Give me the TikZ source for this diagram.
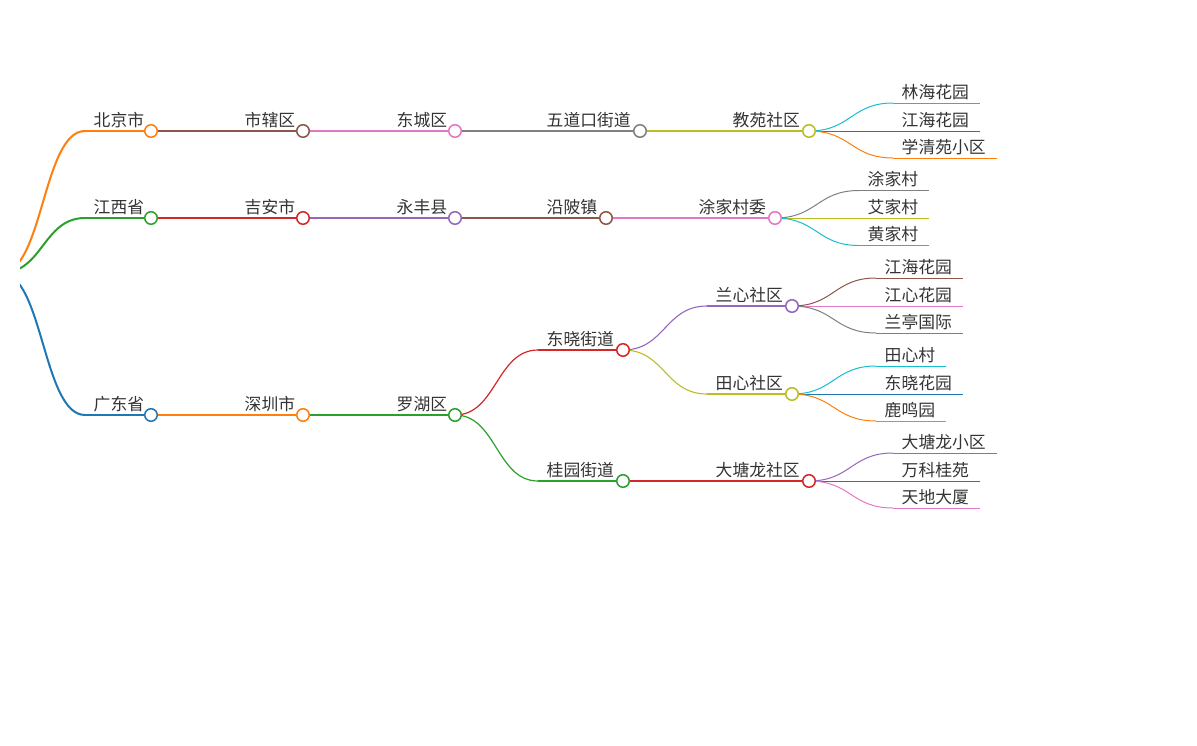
\documentclass[tikz,border=0pt]{standalone}
\usepackage{fontspec}
\newfontfamily\cjk{Noto Sans CJK SC}
\usetikzlibrary{calc}
\definecolor{cblue}{HTML}{1F77B4}
\definecolor{corange}{HTML}{FF7F0E}
\definecolor{cgreen}{HTML}{2CA02C}
\definecolor{cred}{HTML}{D62728}
\definecolor{cpurple}{HTML}{9467BD}
\definecolor{cbrown}{HTML}{8C564B}
\definecolor{cpink}{HTML}{E377C2}
\definecolor{cgray}{HTML}{7F7F7F}
\definecolor{colive}{HTML}{BCBD22}
\definecolor{ccyan}{HTML}{17BECF}
\definecolor{txt}{HTML}{333333}
\pgfdeclarelayer{fg}
\pgfsetlayers{main,fg}
\tikzset{
  lbl/.style={font=\cjk\fontsize{16.8}{18}\selectfont, text=txt, inner sep=0pt, anchor=base west},
  dot/.style={circle, fill=white, line width=1.5pt, minimum size=12.5pt, inner sep=0pt},
  link/.style={to path={let \p1=(\tikztostart), \p2=(\tikztotarget), \n1={(\x1+\x2)/2} in .. controls (\n1,\y1) and (\n1,\y2) .. (\tikztotarget)}},
}
% name, xs, xe, y, colour, width, text
\newcommand\mmnode[7]{%
  \coordinate (#1-s) at (#2,#4);
  \coordinate (#1) at (#3,#4);
  \draw[#5, line width=#6pt] (#1-s) -- (#1);
  \node[lbl] (#1-t) at ($(#1-s)+(8.5,-5)$) {#7};
}
% parent, child, colour, width
\newcommand\mmlink[4]{\draw[link, #3, line width=#4pt] (#1) to (#2-s);}
\newcommand\mmdot[2]{\begin{pgfonlayer}{fg}\node[dot, draw=#2] (#1-c) at (#1) {};\end{pgfonlayer}}
\begin{document}
\begin{tikzpicture}[x=1pt, y=-1pt]
\useasboundingbox (0,0) rectangle (1197,745);
\coordinate (root) at (1,273);
% level 1
\mmnode{bj}{85}{151}{131}{corange}{2}{北京市}
\mmnode{jx}{85}{151}{218}{cgreen}{2}{江西省}
\mmnode{gd}{85}{151}{415}{cblue}{2}{广东省}
\begin{scope}
\clip (20,0) rectangle (1197,745);
\mmlink{root}{bj}{corange}{2}
\mmlink{root}{jx}{cgreen}{2}
\mmlink{root}{gd}{cblue}{2}
\end{scope}
% level 2
\mmnode{sx}{236}{303}{131}{cbrown}{1.5}{市辖区}
\mmnode{ja}{236}{303}{218}{cred}{1.5}{吉安市}
\mmnode{sz}{236}{303}{415}{corange}{1.5}{深圳市}
\mmlink{bj}{sx}{cbrown}{1.5}
\mmlink{jx}{ja}{cred}{1.5}
\mmlink{gd}{sz}{corange}{1.5}
% level 3
\mmnode{dc}{388}{455}{131}{cpink}{1.3}{东城区}
\mmnode{yf}{388}{455}{218}{cpurple}{1.3}{永丰县}
\mmnode{lh}{388}{455}{415}{cgreen}{1.3}{罗湖区}
\mmlink{sx}{dc}{cpink}{1.3}
\mmlink{ja}{yf}{cpurple}{1.3}
\mmlink{sz}{lh}{cgreen}{1.3}
% level 4
\mmnode{wd}{538}{640}{131}{cgray}{1.2}{五道口街道}
\mmnode{yp}{538}{606}{218}{cbrown}{1.2}{沿陂镇}
\mmnode{dx}{538}{623}{350}{cred}{1.2}{东晓街道}
\mmnode{gy}{538}{623}{481}{cgreen}{1.2}{桂园街道}
\mmlink{dc}{wd}{cgray}{1.2}
\mmlink{yf}{yp}{cbrown}{1.2}
\mmlink{lh}{dx}{cred}{1.2}
\mmlink{lh}{gy}{cgreen}{1.2}
% level 5
\mmnode{jy}{724}{809}{131}{colive}{1.1}{教苑社区}
\mmnode{tw}{690}{775}{218}{cpink}{1.1}{涂家村委}
\mmnode{lx}{707}{792}{306}{cpurple}{1.1}{兰心社区}
\mmnode{tx}{707}{792}{394}{colive}{1.1}{田心社区}
\mmnode{dt}{707}{809}{481}{cred}{1.1}{大塘龙社区}
\mmlink{wd}{jy}{colive}{1.1}
\mmlink{yp}{tw}{cpink}{1.1}
\mmlink{dx}{lx}{cpurple}{1.1}
\mmlink{dx}{tx}{colive}{1.1}
\mmlink{gy}{dt}{cred}{1.1}
% level 6
\mmnode{lhhy}{893}{980}{103}{ccyan}{1}{林海花园}
\mmnode{jhhy}{893}{980}{131}{cblue}{1}{江海花园}
\mmnode{xqy}{893}{997}{158}{corange}{1}{学清苑小区}
\mmlink{jy}{lhhy}{ccyan}{1}
\mmlink{jy}{jhhy}{cblue}{1}
\mmlink{jy}{xqy}{corange}{1}
\mmnode{tjc}{859}{929}{190.5}{cgray}{1}{涂家村}
\mmnode{ajc}{859}{929}{218}{colive}{1}{艾家村}
\mmnode{hjc}{859}{929}{245.5}{ccyan}{1}{黄家村}
\mmlink{tw}{tjc}{cgray}{1}
\mmlink{tw}{ajc}{colive}{1}
\mmlink{tw}{hjc}{ccyan}{1}
\mmnode{jhhy2}{876}{963}{278}{cbrown}{1}{江海花园}
\mmnode{jxhy}{876}{963}{306}{cpink}{1}{江心花园}
\mmnode{ltgj}{876}{963}{333}{cgray}{1}{兰亭国际}
\mmlink{lx}{jhhy2}{cbrown}{1}
\mmlink{lx}{jxhy}{cpink}{1}
\mmlink{lx}{ltgj}{cgray}{1}
\mmnode{txc}{876}{946}{366}{ccyan}{1}{田心村}
\mmnode{dxhy}{876}{963}{394}{cblue}{1}{东晓花园}
\mmnode{lmy}{876}{946}{421}{corange}{1}{鹿鸣园}
\mmlink{tx}{txc}{ccyan}{1}
\mmlink{tx}{dxhy}{cblue}{1}
\mmlink{tx}{lmy}{corange}{1}
\mmnode{dtxq}{893}{997}{453}{cpurple}{1}{大塘龙小区}
\mmnode{wkgy}{893}{980}{481}{cbrown}{1}{万科桂苑}
\mmnode{tddx}{893}{980}{508}{cpink}{1}{天地大厦}
\mmlink{dt}{dtxq}{cpurple}{1}
\mmlink{dt}{wkgy}{cbrown}{1}
\mmlink{dt}{tddx}{cpink}{1}
% circles on non-leaf nodes
\mmdot{bj}{corange}
\mmdot{jx}{cgreen}
\mmdot{gd}{cblue}
\mmdot{sx}{cbrown}
\mmdot{ja}{cred}
\mmdot{sz}{corange}
\mmdot{dc}{cpink}
\mmdot{yf}{cpurple}
\mmdot{lh}{cgreen}
\mmdot{wd}{cgray}
\mmdot{yp}{cbrown}
\mmdot{dx}{cred}
\mmdot{gy}{cgreen}
\mmdot{jy}{colive}
\mmdot{tw}{cpink}
\mmdot{lx}{cpurple}
\mmdot{tx}{colive}
\mmdot{dt}{cred}
\end{tikzpicture}
\end{document}
